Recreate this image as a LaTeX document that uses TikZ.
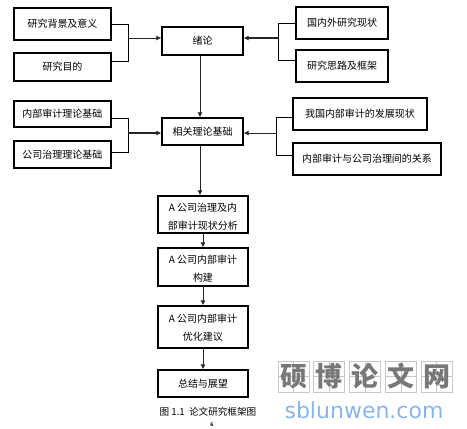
\documentclass[tikz,border=0pt]{standalone}
\usepackage{fontspec}
\setmainfont{Noto Sans CJK SC}
\newfontfamily\markfont{DejaVu Sans}
\usepackage{xcolor}
\usetikzlibrary{positioning,arrows.meta}
\definecolor{markgray}{RGB}{120,120,120}
\definecolor{markline}{RGB}{200,200,200}
\definecolor{markblue}{RGB}{135,182,238}
\newcommand{\stagetext}[2]{\raisebox{-#1}[0pt][0pt]{\parbox{88pt}{\centering #2}}}

\begin{document}
\begin{tikzpicture}[
  x=1pt, y=-1pt,
  every node/.style={font=\fontsize{10}{18}\selectfont},
  stage/.style={rectangle, draw=black, line width=1.2pt, align=center, inner sep=0pt,
                minimum width=#1, minimum height=27pt},
  stage/.default=97pt,
  tall/.style={minimum height=37pt},
  link/.style={draw=black, line width=0.7pt},
  flow/.style={-{Latex[length=5pt,width=5pt]}, line width=0.8pt, color=black!85},
  markbox/.style={rectangle, draw=markline, line width=0.8pt, minimum size=31pt, inner sep=0pt,
                  text=markgray, font=\fontsize{27}{27}\selectfont\bfseries,
                  path picture={\draw[markline, line width=0.6pt]
                    (path picture bounding box.north) -- (path picture bounding box.south)
                    (path picture bounding box.west) -- (path picture bounding box.east);}}
]
  \useasboundingbox (0,0) rectangle (467,429);

  % centre column
  \node[stage=81pt, minimum height=28pt] (intro) at (202.5,41) {绪论};
  \node[stage=81pt] (theory) at (202.5,131.5) {相关理论基础};
  \node[stage=90pt, tall] (status) at (203,214.5) {\stagetext{5pt}{A 公司治理及内\\部审计现状分析}};
  \node[stage=90pt, minimum height=38pt, below=13.8pt of status] (build) {\stagetext{4.5pt}{A 公司内部审计\\构建}};
  \node[stage=90pt, minimum height=42pt, below=18.8pt of build] (improve) {\stagetext{3pt}{A 公司内部审计\\优化建议}};
  \node[stage=90pt, below=20.8pt of improve] (summary) {总结与展望};

  % left column
  \node[stage, minimum height=32pt] (background) at (62.5,24) {研究背景及意义};
  \node[stage, minimum height=28pt, below=11.8pt of background] (aim) {研究目的};
  \node[stage, minimum height=26pt] (audit) at (62.5,114) {内部审计理论基础};
  \node[stage, below=12.8pt of audit] (govern) {公司治理理论基础};

  % right column
  \node[stage=92pt, minimum height=32pt] (abroad) at (342,23) {国内外研究现状};
  \node[stage=92pt, minimum height=32pt, below=9.8pt of abroad] (idea) {研究思路及框架};
  \node[stage=134pt, minimum height=32pt] (develop) at (360,114) {我国内部审计的发展现状};
  \node[stage=148pt, minimum height=32pt] (relation) at (367,159) {内部审计与公司治理间的关系};

  \coordinate (jointa) at (128,38);
  \coordinate (jointb) at (128,133);
  \coordinate (jointc) at (278,38);
  \coordinate (jointd) at (276,133);

  \draw[link] (background.east) -| (jointa);
  \draw[link] (aim.7) -| (jointa);
  \draw[link] (audit.-5) -| (jointb);
  \draw[link] (govern.3) -| (jointb);
  \draw[link] (abroad.west) -| (jointc);
  \draw[link] (idea.173) -| (jointc);
  \draw[link] (develop.183) -| (jointd);
  \draw[link] (relation.177) -| (jointd);

  \draw[flow] (jointa) -- (jointa -| intro.west);
  \draw[flow, line width=1.3pt] (jointb) -- (jointb -| theory.west);
  \draw[flow, line width=1.3pt] (jointc) -- (jointc -| intro.east);
  \draw[flow] (jointd) -- (jointd -| theory.east);

  \draw[flow] ([xshift=-2.5pt]intro.south) -- ([xshift=-2.5pt]theory.north);
  \draw[flow] ([xshift=-2.5pt]theory.south) -- ([xshift=-3pt]status.north);
  \draw[flow] (status) -- (build);
  \draw[flow] (build) -- (improve);
  \draw[flow] (improve) -- (summary);

  \node[font=\fontsize{9.6}{10}\selectfont] (caption) at (208,412) {图 1.1\ \ 论文研究框架图};
  \node[font=\fontsize{5}{6}\selectfont\bfseries] (pageno) at (212,425) {6};

  % watermark
  \node[markbox] (marka) at (293.5,376.5) {硕};
  \node[markbox, right=4pt of marka] (markb) {博};
  \node[markbox, right=4pt of markb] (markc) {论};
  \node[markbox, right=4pt of markc] (markd) {文};
  \node[markbox, right=4pt of markd] (marke) {网};
  \node[text=markblue, font=\markfont\fontsize{22}{24}\selectfont] (site) at (364,410) {sblunwen.com};
\end{tikzpicture}
\end{document}
